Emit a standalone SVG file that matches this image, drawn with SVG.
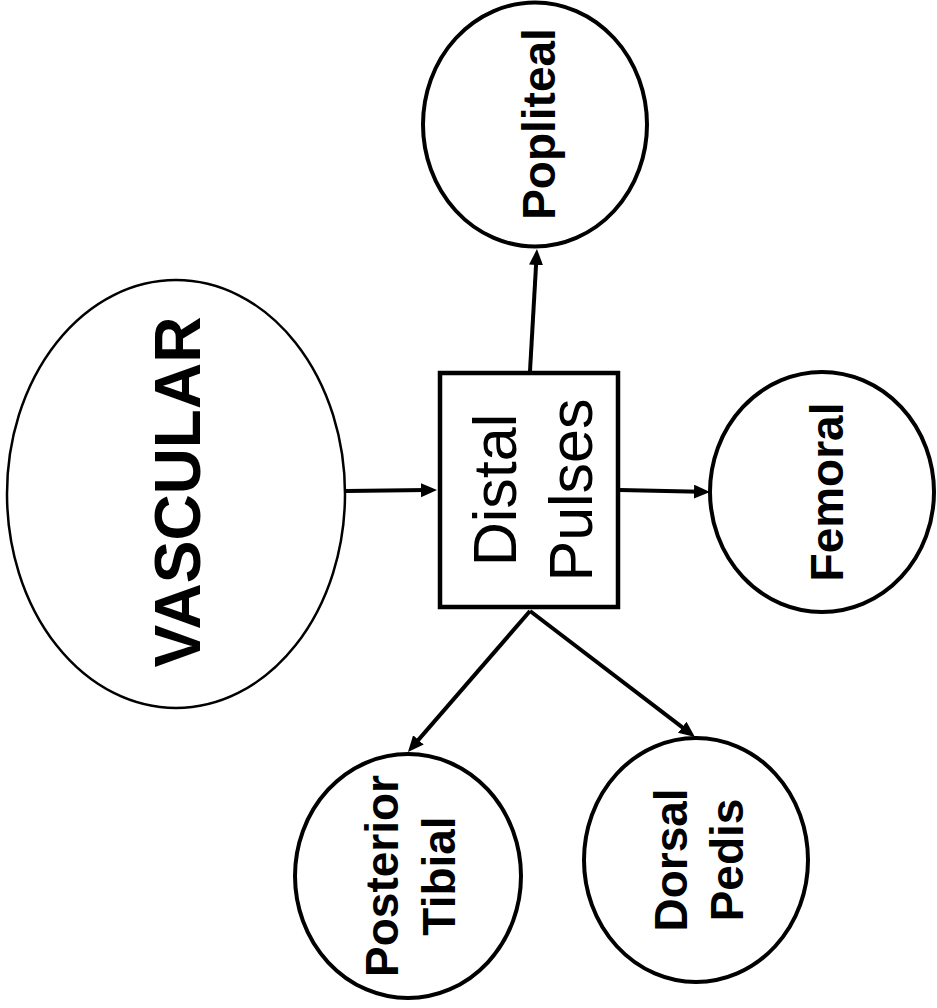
<svg xmlns="http://www.w3.org/2000/svg" width="937" height="1008" viewBox="0 0 937 1008">
<style>
.node{fill:#fff;stroke:#000;stroke-width:4}
.thin{stroke-width:2.5}
.lbl{font-family:"Liberation Sans",Arial,sans-serif;font-weight:bold;font-size:46px;fill:#000;text-anchor:middle}
.reg{font-weight:normal;font-size:61px}
.big{font-size:64px}
.conn{stroke:#000;stroke-width:4;fill:none;marker-end:url(#arr)}
</style>
<defs>
<marker id="arr" markerUnits="userSpaceOnUse" markerWidth="18" markerHeight="16" refX="6" refY="7" orient="auto">
<path d="M0,0 L16,7 L0,14 z" fill="#000"/>
</marker>
</defs>
<rect width="937" height="1008" fill="#fff"/>
<g id="connectors">
<line class="conn" x1="346" y1="491" x2="427" y2="490.1"/>
<line class="conn" x1="620" y1="490" x2="700" y2="491.8"/>
<line class="conn" x1="530" y1="371" x2="536.4" y2="259"/>
<line class="conn" x1="530" y1="611" x2="414.5" y2="744.4"/>
<line class="conn" x1="530" y1="611" x2="687" y2="730.9"/>
</g>
<g id="vascular">
<ellipse class="node thin" cx="176" cy="494" rx="169" ry="214"/>
<text class="lbl big" transform="translate(200,492) rotate(-90)">VASCULAR</text>
</g>
<g id="distal">
<rect class="node" x="440" y="373" width="178" height="234" style="stroke-width:4.5"/>
<text class="lbl reg" transform="translate(516,490) rotate(-90)"><tspan x="0" y="0">Distal</tspan><tspan x="0" y="76">Pulses</tspan></text>
</g>
<g id="popliteal">
<ellipse class="node" cx="535" cy="124.5" rx="112" ry="122"/>
<text class="lbl" transform="translate(555,124) rotate(-90)">Popliteal</text>
</g>
<g id="femoral">
<ellipse class="node" cx="822" cy="492" rx="112" ry="120"/>
<text class="lbl" transform="translate(843,492) rotate(-90)">Femoral</text>
</g>
<g id="posterior">
<ellipse class="node" cx="408" cy="876" rx="113" ry="122"/>
<text class="lbl" transform="translate(398,876) rotate(-90)"><tspan x="0" y="0">Posterior</tspan><tspan x="0" y="57">Tibial</tspan></text>
</g>
<g id="dorsal">
<ellipse class="node" cx="696" cy="860" rx="112" ry="122"/>
<text class="lbl" transform="translate(687,860) rotate(-90)"><tspan x="0" y="0">Dorsal</tspan><tspan x="0" y="56">Pedis</tspan></text>
</g>
</svg>
